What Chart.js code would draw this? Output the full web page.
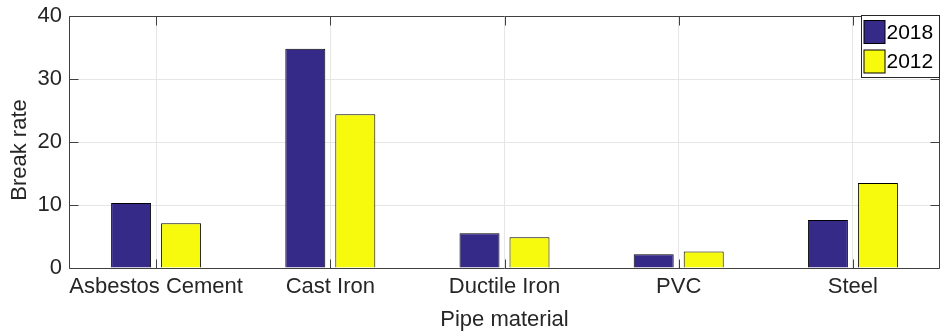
<!DOCTYPE html>
<html>
<head>
<meta charset="utf-8">
<script src="https://cdn.jsdelivr.net/npm/chart.js@4/dist/chart.umd.min.js"></script>
<style>
  html, body { margin: 0; padding: 0; background: #fff; }
  #wrap { width: 940px; height: 333px; position: relative; }
</style>
</head>
<body>
<div id="wrap"><canvas id="c" width="940" height="333"></canvas></div>
<script>
// Pipe break rates by material, two survey years
const categories = ['Asbestos Cement', 'Cast Iron', 'Ductile Iron', 'PVC', 'Steel'];
const rate2018 = [10.3, 34.8, 5.5, 2.2, 7.6];
const rate2012 = [7.1, 24.4, 4.9, 2.6, 13.5];
const seriesLabels = ['2018', '2012'];
const yTicks = [0, 10, 20, 30, 40];
const yTitle = 'Break rate';

const TEXT = '#262626';
const AXIS = '#404040';
const GRID = '#e6e6e6';
const FONT = 'Liberation Sans, Arial, Helvetica, sans-serif';

// Box outline, inward tick marks, y title and the in-plot legend
const boxPlugin = {
  id: 'boxPlugin',
  afterDatasetsDraw(chart) {
    const { ctx, chartArea: a, scales } = chart;
    const x = scales.x, y = scales.y;
    const L = Math.round(a.left) + 0.5, R = Math.round(a.right) - 0.5;
    const T = Math.round(a.top) + 0.5, B = Math.round(a.bottom) + 0.5;
    const tl = 9;
    ctx.save();
    ctx.strokeStyle = AXIS;
    ctx.lineWidth = 1;
    ctx.beginPath();
    ctx.rect(L, T, R - L, B - T);
    // y ticks, left and right
    yTicks.forEach(v => {
      const py = Math.round(y.getPixelForValue(v)) + 0.5;
      ctx.moveTo(L, py); ctx.lineTo(L + tl, py);
      ctx.moveTo(R, py); ctx.lineTo(R - tl, py);
    });
    // x ticks at category centres, bottom and top
    categories.forEach((c, i) => {
      const px = Math.round(x.getPixelForValue(i)) + 0.5;
      ctx.moveTo(px, B); ctx.lineTo(px, B - tl);
      ctx.moveTo(px, T); ctx.lineTo(px, T + tl);
    });
    ctx.stroke();

    // vertical axis title
    ctx.save();
    ctx.translate(20, (a.top + a.bottom) / 2 + 8);
    ctx.rotate(-Math.PI / 2);
    ctx.font = '22px ' + FONT;
    ctx.fillStyle = TEXT;
    ctx.textAlign = 'center';
    ctx.textBaseline = 'middle';
    ctx.fillText(yTitle, 0, 0);
    ctx.restore();

    // legend
    const lw = 78, lh = 62;
    const lx = Math.round(a.right) - lw - 1 + 0.5, ly = Math.round(a.top) - 0.5;
    ctx.fillStyle = '#fff';
    ctx.fillRect(lx, ly, lw, lh);
    ctx.strokeStyle = TEXT;
    ctx.strokeRect(lx, ly, lw, lh);
    ctx.font = '21px ' + FONT;
    ctx.textBaseline = 'middle';
    ctx.textAlign = 'left';
    chart.data.datasets.forEach((ds, i) => {
      const sy = ly + 5 + i * 29.5;
      ctx.fillStyle = ds.backgroundColor;
      ctx.fillRect(lx + 2.5, sy, 21, 23);
      ctx.strokeStyle = '#000';
      ctx.strokeRect(lx + 2.5, sy, 21, 23);
      ctx.fillStyle = '#000';
      ctx.fillText(ds.label, lx + 25, sy + 12.5);
    });
    ctx.restore();
  }
};

new Chart(document.getElementById('c'), {
  type: 'bar',
  data: {
    labels: categories,
    datasets: [
      { label: seriesLabels[0], data: rate2018, backgroundColor: '#352a87', borderColor: '#000', borderWidth: 1 },
      { label: seriesLabels[1], data: rate2012, backgroundColor: '#f8fa0d', borderColor: '#000', borderWidth: 1 }
    ]
  },
  options: {
    responsive: false,
    animation: false,
    devicePixelRatio: 1,
    layout: { padding: { top: 16, right: 0, bottom: 0, left: 0 } },
    datasets: { bar: { categoryPercentage: 0.574, barPercentage: 0.8 } },
    plugins: { legend: { display: false }, tooltip: { enabled: false } },
    scales: {
      x: {
        offset: true,
        grid: { offset: false, color: GRID, drawTicks: false },
        border: { display: false },
        ticks: { color: TEXT, font: { family: FONT, size: 22 }, padding: 6, maxRotation: 0, autoSkip: false },
        title: { display: true, text: 'Pipe material', color: TEXT, font: { family: FONT, size: 22 }, padding: { top: 0, bottom: 0 } },
        afterFit(s) { s.height = 65; s.paddingLeft = 0; s.paddingRight = 0; }
      },
      y: {
        min: 0, max: 40,
        afterBuildTicks(s) { s.ticks = yTicks.map(v => ({ value: v })); },
        grid: { color: GRID, drawTicks: false },
        border: { display: false },
        ticks: { color: TEXT, font: { family: FONT, size: 22 }, padding: 7 },
        title: { display: false },
        afterFit(s) { s.width = 69; s.paddingTop = 0; s.paddingBottom = 0; }
      }
    }
  },
  plugins: [boxPlugin]
});
</script>
</body>
</html>
